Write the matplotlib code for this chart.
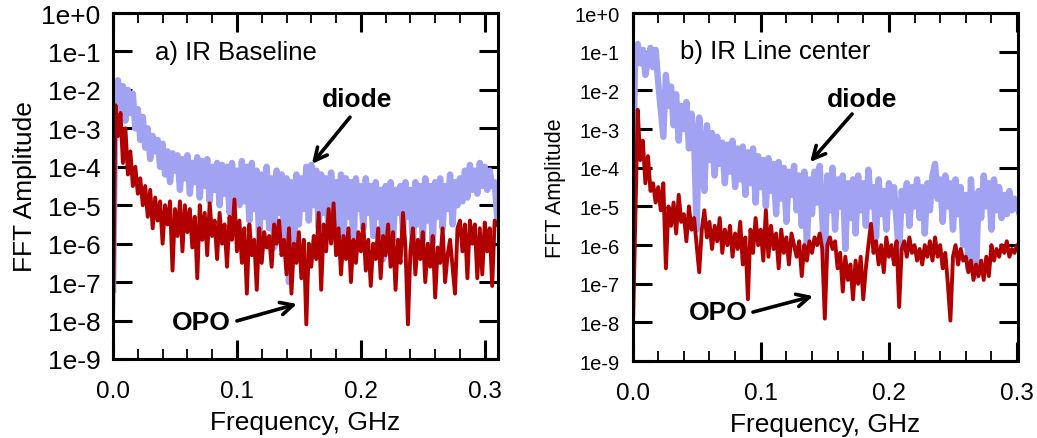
import numpy as np
import matplotlib
matplotlib.use("Agg")
import matplotlib.pyplot as plt
from matplotlib.ticker import MultipleLocator, FixedLocator, FuncFormatter, NullLocator

plt.rcParams['font.family'] = ['Liberation Sans', 'DejaVu Sans']

# ---------------- data (log10 of FFT amplitude) ----------------
# frequency bin spacing (GHz) for the FFT spectra
f_step = 0.002

diode_a_log = [
    -7.2, -2.2, -1.75, -2.5, -1.9, -2.8, -2.0, -2.6, -2.1, -3.0,
    -2.5, -3.3, -2.7, -3.5, -3.0, -3.8, -3.2, -3.6, -3.3, -4.0,
    -3.4, -4.2, -3.6, -4.4, -3.65, -4.1, -3.7, -4.6, -3.8, -4.3,
    -3.7, -4.7, -3.9, -4.4, -3.75, -4.8, -3.85, -4.5, -3.8, -4.9,
    -4.0, -4.6, -3.9, -5.0, -3.95, -4.7, -4.0, -5.2, -3.9, -4.8,
    -4.1, -5.0, -3.85, -4.9, -4.0, -5.4, -3.9, -5.1, -4.1, -6.0,
    -4.2, -5.3, -4.0, -5.6, -4.3, -6.1, -4.1, -5.2, -4.2, -5.8,
    -4.3, -7.0, -4.4, -6.2, -4.2, -5.5, -4.3, -5.1, -4.0, -5.4,
    -3.95, -5.0, -4.1, -5.6, -4.2, -5.2, -4.3, -5.8, -4.15, -5.0,
    -4.4, -5.5, -4.2, -5.9, -4.3, -5.3, -4.4, -6.2, -4.3, -5.1,
    -4.5, -5.6, -4.3, -5.2, -4.5, -5.8, -4.4, -5.3, -4.6, -6.4,
    -4.5, -5.4, -4.4, -5.9, -4.6, -5.2, -4.5, -5.7, -4.4, -5.3,
    -4.6, -6.1, -4.4, -5.5, -4.5, -5.9, -4.3, -5.4, -4.5, -6.0,
    -4.4, -5.3, -4.3, -5.6, -4.5, -5.1, -4.2, -5.5, -4.4, -5.0,
    -4.3, -4.9, -4.1, -4.8, -3.95, -4.6, -4.1, -4.7, -3.9, -4.5,
    -4.0, -4.6, -4.1, -4.5, -4.4, -5.3,
]

opo_a_log = [
    -8.0, -2.4, -3.2, -2.6, -3.9, -3.0, -4.2, -3.6, -4.5, -4.0,
    -4.7, -4.3, -5.0, -4.5, -5.3, -4.6, -5.6, -4.8, -5.4, -4.9,
    -6.0, -5.0, -5.5, -4.9, -6.7, -5.1, -5.8, -4.9, -6.2, -5.0,
    -5.7, -5.1, -6.1, -5.3, -6.9, -5.0, -5.9, -5.2, -6.3, -4.95,
    -5.8, -5.4, -6.4, -5.2, -6.0, -5.5, -6.6, -5.3, -5.9, -4.85,
    -6.2, -5.4, -6.5, -5.6, -7.3, -5.5, -6.3, -5.9, -7.2, -5.6,
    -6.5, -5.7, -6.1, -5.8, -6.6, -5.5, -6.0, -5.4, -6.3, -5.9,
    -6.8, -5.6, -7.3, -6.0, -6.5, -5.7, -6.9, -5.9, -8.1, -6.0,
    -6.6, -5.8, -6.4, -5.2, -7.2, -5.5, -6.2, -5.1, -6.0, -4.95,
    -6.3, -5.6, -6.8, -5.8, -6.4, -5.6, -7.0, -5.9, -6.5, -5.7,
    -6.2, -5.5, -6.7, -5.9, -7.1, -6.0, -6.4, -5.6, -6.9, -5.8,
    -6.3, -5.5, -6.6, -5.7, -7.2, -5.9, -6.5, -5.2, -6.1, -8.1,
    -6.2, -5.6, -6.8, -5.9, -6.4, -5.7, -7.0, -6.0, -6.6, -5.8,
    -7.4, -6.1, -6.5, -5.6, -7.0, -6.3, -5.9, -6.6, -7.3, -5.6,
    -5.4, -6.2, -5.5, -6.9, -5.4, -6.0, -5.5, -6.9, -5.6, -6.8,
    -5.45, -6.2, -5.6, -7.1, -5.4, -5.5,
]

diode_b_log = [
    -5.4, -1.0, -0.8, -1.3, -0.95, -1.6, -1.2, -0.9, -1.4, -0.95,
    -1.8, -2.5, -3.2, -1.6, -2.4, -1.9, -2.9, -2.1, -3.3, -2.4,
    -3.0, -2.3, -3.5, -2.6, -3.2, -5.6, -2.7, -3.6, -4.6, -2.9,
    -3.8, -3.1, -4.2, -3.2, -3.9, -3.35, -4.4, -3.4, -4.1, -3.3,
    -4.5, -3.5, -4.3, -3.45, -4.7, -3.6, -4.4, -3.5, -4.9, -3.7,
    -4.5, -3.8, -5.0, -3.75, -4.6, -3.9, -5.2, -3.85, -4.8, -4.0,
    -5.4, -4.1, -4.7, -3.95, -5.1, -4.2, -5.5, -4.1, -6.0, -4.3,
    -5.2, -4.1, -4.9, -3.95, -5.3, -6.4, -4.2, -5.1, -4.0, -5.6,
    -4.3, -5.0, -4.2, -6.1, -4.4, -5.3, -4.3, -5.7, -4.2, -5.1,
    -4.4, -5.5, -4.05, -5.0, -4.5, -5.8, -4.3, -5.2, -4.6, -5.6,
    -4.4, -5.0, -4.5, -5.4, -6.3, -4.6, -5.1, -4.4, -5.5, -4.5,
    -5.0, -4.3, -5.3, -4.5, -5.7, -4.4, -5.1, -4.2, -3.9, -4.8,
    -4.3, -5.4, -4.2, -5.0, -4.4, -5.6, -4.3, -5.2, -4.5, -6.0,
    -4.7, -6.6, -4.3, -5.4, -6.8, -4.6, -5.3, -4.2, -5.0, -4.4,
    -5.6, -4.3, -5.1, -4.5, -5.3, -4.7, -5.2, -4.6, -5.1, -4.8,
    -5.0, -5.2,
]

opo_b_log = [
    -8.6, -5.5, -2.5, -3.8, -3.3, -4.4, -3.7, -4.6, -4.4, -4.9,
    -4.5, -5.1, -4.4, -6.6, -5.0, -5.5, -4.9, -5.7, -4.7, -5.4,
    -5.2, -5.9, -5.0, -5.6, -5.3, -6.0, -6.7, -5.6, -5.1, -5.8,
    -5.4, -6.1, -5.5, -5.9, -5.3, -6.2, -5.6, -6.0, -5.5, -6.3,
    -5.7, -6.1, -5.4, -6.5, -5.8, -7.4, -5.6, -6.2, -5.3, -6.0,
    -5.6, -6.4, -5.1, -6.3, -5.5, -6.1, -5.7, -6.6, -5.6, -6.2,
    -5.8, -6.5, -5.7, -6.0, -6.3, -5.9, -6.8, -6.0, -6.4, -5.9,
    -6.2, -5.8, -6.0, -5.7, -6.1, -7.9, -6.0, -5.8, -6.1, -5.9,
    -6.6, -6.2, -7.2, -6.3, -6.9, -6.5, -7.4, -6.4, -7.0, -6.3,
    -7.4, -6.6, -6.0, -5.45, -6.2, -5.9, -6.5, -6.0, -6.7, -5.8,
    -6.3, -6.0, -6.5, -5.9, -7.6, -6.1, -5.9, -6.3, -5.8, -6.2,
    -6.0, -6.4, -6.1, -6.5, -6.0, -6.3, -5.9, -6.4, -5.8, -6.3,
    -6.0, -6.6, -6.2, -7.0, -7.95, -6.3, -6.0, -6.5, -6.1, -6.4,
    -6.3, -6.7, -6.4, -6.9, -6.5, -6.8, -6.4, -6.9, -6.3, -6.8,
    -6.0, -6.4, -6.1, -6.3, -6.0, -6.2, -5.9, -6.3, -6.1, -6.2,
    -6.0, -6.1,
]

panel_titles = ["a) IR Baseline", "b) IR Line center"]
x_label = "Frequency, GHz"
y_label = "FFT Amplitude"
x_ticks = [0.0, 0.1, 0.2, 0.3]
x_tick_labels = ["0.0", "0.1", "0.2", "0.3"]
y_decades = [-9, -8, -7, -6, -5, -4, -3, -2, -1, 0]

# ---------------- style ----------------
diode_color = '#a2a2f2'
opo_color = '#b00000'

fig = plt.figure(figsize=(10.37, 4.39), dpi=100)
ax_a = fig.add_axes([0.109, 0.180, 0.371, 0.788])
ax_b = fig.add_axes([0.610, 0.175, 0.372, 0.793])


def freqs(vals):
    return np.arange(len(vals)) * f_step


def style_axes(ax, xmax, ytick_size, ylabel_size, ylabelpad):
    ax.set_yscale('log')
    ax.set_ylim(10.0 ** min(y_decades), 10.0 ** max(y_decades))
    ax.set_xlim(0, xmax)
    ax.xaxis.set_major_locator(FixedLocator(x_ticks))
    ax.set_xticklabels(x_tick_labels)
    ax.xaxis.set_minor_locator(MultipleLocator(0.02))
    ax.yaxis.set_major_locator(FixedLocator([10.0 ** d for d in y_decades]))
    ax.yaxis.set_major_formatter(FuncFormatter(lambda v, p: "1e%+d" % int(round(np.log10(v)))))
    ax.yaxis.set_minor_locator(NullLocator())
    ax.tick_params(which='major', direction='in', length=14, width=2.2,
                   top=True, right=True)
    ax.tick_params(which='minor', direction='in', length=7, width=1.3,
                   top=True, right=True)
    ax.tick_params(axis='x', which='major', labelsize=17.5, pad=15)
    ax.tick_params(axis='y', which='major', labelsize=ytick_size, pad=9)
    for s in ax.spines.values():
        s.set_linewidth(2.2)
    ax.set_xlabel(x_label, fontsize=19, labelpad=6)
    ax.set_ylabel(y_label, fontsize=ylabel_size, labelpad=ylabelpad)


arrow = dict(arrowstyle='->,head_length=0.9,head_width=0.45', lw=2.6, color='black',
             shrinkA=0, shrinkB=0)

# panel a
ax_a.plot(freqs(diode_a_log), 10.0 ** np.array(diode_a_log), color=diode_color, lw=4.6)
ax_a.plot(freqs(opo_a_log), 10.0 ** np.array(opo_a_log), color=opo_color, lw=2.8)
style_axes(ax_a, 0.3105, 19, 19, 3)
ax_a.text(0.109, 0.887, panel_titles[0], transform=ax_a.transAxes, fontsize=18.5,
          va='center', ha='left')
ax_a.text(0.634, 0.751, "diode", transform=ax_a.transAxes, fontsize=19, fontweight='bold',
          va='center', ha='center')
ax_a.text(0.229, 0.107, "OPO", transform=ax_a.transAxes, fontsize=19, fontweight='bold',
          va='center', ha='center')
ax_a.annotate("", xy=(0.517, 0.564), xytext=(0.616, 0.699), xycoords='axes fraction',
              textcoords='axes fraction', arrowprops=arrow)
ax_a.annotate("", xy=(0.478, 0.159), xytext=(0.322, 0.110), xycoords='axes fraction',
              textcoords='axes fraction', arrowprops=arrow)

# panel b
ax_b.plot(freqs(diode_b_log), 10.0 ** np.array(diode_b_log), color=diode_color, lw=4.6)
ax_b.plot(freqs(opo_b_log), 10.0 ** np.array(opo_b_log), color=opo_color, lw=2.8)
style_axes(ax_b, 0.301, 14.5, 15.5, 6)
ax_b.text(0.122, 0.891, panel_titles[1], transform=ax_b.transAxes, fontsize=18.5,
          va='center', ha='left')
ax_b.text(0.595, 0.753, "diode", transform=ax_b.transAxes, fontsize=19, fontweight='bold',
          va='center', ha='center')
ax_b.text(0.223, 0.141, "OPO", transform=ax_b.transAxes, fontsize=19, fontweight='bold',
          va='center', ha='center')
ax_b.annotate("", xy=(0.460, 0.572), xytext=(0.569, 0.710), xycoords='axes fraction',
              textcoords='axes fraction', arrowprops=arrow)
ax_b.annotate("", xy=(0.468, 0.187), xytext=(0.312, 0.141), xycoords='axes fraction',
              textcoords='axes fraction', arrowprops=arrow)

fig.savefig("out.png", dpi=100)
